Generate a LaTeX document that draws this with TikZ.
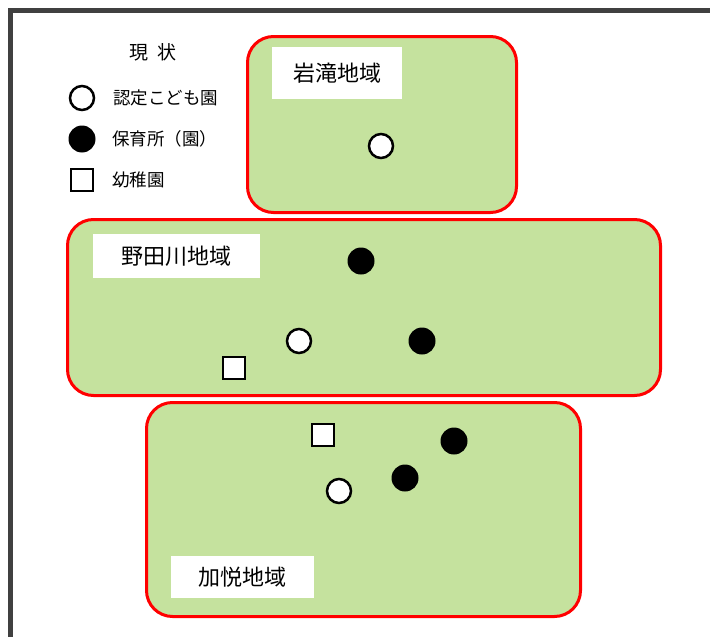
\documentclass[tikz,border=0pt]{standalone}
\usepackage{fontspec}
\newfontfamily\jpfont{Noto Sans CJK JP}
\usetikzlibrary{positioning}
\definecolor{areagreen}{RGB}{197,226,158}
\definecolor{framegray}{RGB}{64,64,64}

\begin{document}
\begin{tikzpicture}[x=1pt, y=-1pt, every node/.style={font=\jpfont},
    region/.style={rectangle, rounded corners=26pt, draw=red, line width=3pt, fill=areagreen},
    areaname/.style={rectangle, fill=white, inner sep=0pt, font=\jpfont\fontsize{22}{22}\selectfont},
    kodomo/.style={circle, draw=black, fill=white, line width=2.5pt, minimum size=24pt, inner sep=0pt},
    hoikusho/.style={circle, fill=black, minimum size=27pt, inner sep=0pt},
    yochien/.style={rectangle, draw=black, fill=white, line width=2.5pt, minimum size=22pt, inner sep=0pt},
    legtext/.style={inner sep=0pt, font=\jpfont\fontsize{17.5}{17.5}\selectfont}]
    \useasboundingbox (0,0) rectangle (710,637);
    \draw[framegray, line width=5pt] (10,640) -- (10,10.5) -- (712,10.5);

    \node[inner sep=0pt, font=\jpfont\fontsize{19}{19}\selectfont] (title) at (153,52) {現\enspace 状};
    \node[kodomo] (l1) at (82,98) {};
    \node[hoikusho] (l2) at (82,139) {};
    \node[yochien] (l3) at (82,180) {};
    \node[legtext] (t1) [right=18pt of l1] {認定こども園};
    \node[legtext] (t2) [right=16.5pt of l2] {保育所（園）};
    \node[legtext] (t3) [right=18pt of l3] {幼稚園};

    \node[region, minimum width=269pt, minimum height=176pt] (iw) at (382,124.5) {};
    \node[region, minimum width=593pt, minimum height=176pt] (no) at (364,307.5) {};
    \node[region, minimum width=434pt, minimum height=214pt] (ka) at (363.5,509.5) {};

    \node[areaname, minimum width=130pt, minimum height=52pt] (iwname) at (337,73) {岩滝地域};
    \node[areaname, minimum width=167pt, minimum height=44pt] (noname) at (176.5,256) {野田川地域};
    \node[areaname, minimum width=143pt, minimum height=42pt] (kaname) at (242.5,577) {加悦地域};

    \node[kodomo] (iw1) at (381,146) {};

    \node[hoikusho] (no1) at (361,261) {};
    \node[hoikusho] (no2) at (422,341) {};
    \node[kodomo] (no3) at (299,341) {};
    \node[yochien] (no4) at (234,368) {};

    \node[yochien] (ka1) at (323,435) {};
    \node[hoikusho] (ka2) at (454,441) {};
    \node[hoikusho] (ka3) at (405,478) {};
    \node[kodomo] (ka4) at (339,491) {};
\end{tikzpicture}
\end{document}
